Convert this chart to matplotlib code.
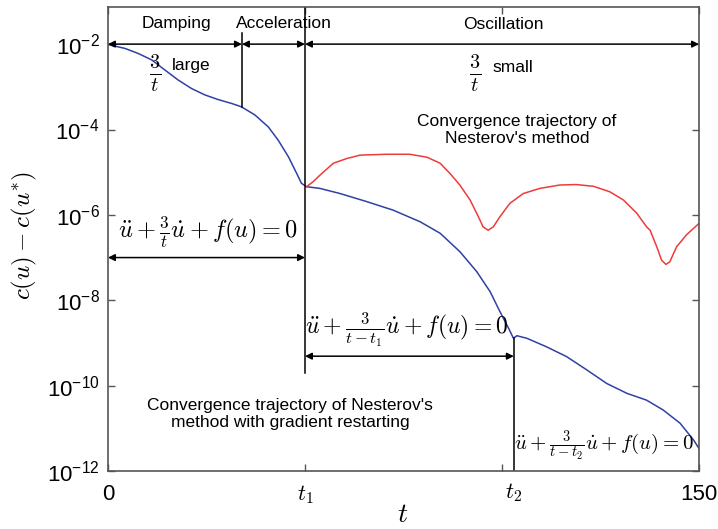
import numpy as np
import matplotlib
matplotlib.use("Agg")
import matplotlib.pyplot as plt
import matplotlib.transforms as mtransforms

plt.rcParams['font.family'] = ['Liberation Sans', 'DejaVu Sans']
plt.rcParams['mathtext.fontset'] = 'cm'

t_blue = [0, 0.5, 4.3, 7.7, 11.1, 14.5, 17.8, 21.2, 24.6, 28.0, 31.4, 33.9, 37.3,
          40.7, 43.2, 45.8, 47.9, 49.1, 50.4, 53.8, 58.9, 65.7, 72.4, 79.2, 84.3,
          89.3, 93.6, 97.0, 99.5, 101.7, 102.9, 103.8, 105.0, 106.3, 111.3, 116.4,
          121.5, 126.6, 131.7, 136.7, 140.9, 145.2, 148.6, 150]
log_blue = [-2.00, -2.02, -2.10, -2.22, -2.37, -2.61, -2.84, -3.04, -3.19, -3.30,
            -3.39, -3.47, -3.66, -3.94, -4.25, -4.64, -5.03, -5.26, -5.34, -5.38,
            -5.50, -5.69, -5.89, -6.16, -6.43, -6.86, -7.33, -7.80, -8.27, -8.66,
            -8.89, -8.83, -8.86, -8.89, -9.09, -9.32, -9.63, -9.95, -10.18, -10.34,
            -10.57, -10.88, -11.27, -11.47]

# plain Nesterov after t1 (red)
t_red = [50.4, 52.1, 53.8, 57.2, 60.6, 64.0, 70.7, 76.6, 81.0, 84.3, 86.8, 89.3,
         91.9, 94.0, 95.2, 96.5, 97.8, 99.5, 102.0, 105.4, 109.6, 114.7, 118.9,
         123.2, 127.4, 130.8, 134.2, 136.7, 137.6, 139.3, 140.5, 141.6, 142.6,
         144.3, 146.8, 150.0]
log_red = [-5.34, -5.22, -5.07, -4.79, -4.68, -4.60, -4.58, -4.58, -4.65, -4.79,
           -5.03, -5.30, -5.65, -6.04, -6.28, -6.36, -6.28, -6.04, -5.73, -5.50,
           -5.38, -5.30, -5.29, -5.33, -5.46, -5.65, -5.96, -6.28, -6.36, -6.75,
           -7.06, -7.16, -7.10, -6.75, -6.47, -6.20]

t1, t2, t_acc = 50, 103, 34
yticks = [1e-12, 1e-10, 1e-8, 1e-6, 1e-4, 1e-2]
ytick_labels = [r'$\mathregular{10^{-12}}$', r'$\mathregular{10^{-10}}$',
                r'$\mathregular{10^{-8}}$', r'$\mathregular{10^{-6}}$',
                r'$\mathregular{10^{-4}}$', r'$\mathregular{10^{-2}}$']

fig = plt.figure(figsize=(7.18, 5.29), dpi=100)
ax = fig.add_axes([0.1504, 0.1096, 0.8231, 0.8772])

ax.plot(t_blue, 10 ** np.array(log_blue), color='#3040a4', lw=1.1)
ax.plot(t_red, 10 ** np.array(log_red), color='#ee3b3b', lw=1.1)

ax.set_yscale('log')
ax.set_xlim(0, 150)
ax.set_ylim(1e-12, 10 ** -1.13)
ax.set_yticks(yticks, ytick_labels)
ax.yaxis.set_minor_locator(matplotlib.ticker.NullLocator())
ax.set_xticks([0, 50, 100, 150], ['0', r'$t_1$', '', '150'])
ax.tick_params(direction='in', top=True, right=True, length=5, width=1,
               color='#555555', labelsize=16, pad=6)
ax.tick_params(axis='x', pad=9)
for s in ax.spines.values():
    s.set_color('#555555')
    s.set_linewidth(1.2)

trans = mtransforms.blended_transform_factory(ax.transData, ax.transAxes)
ax.text(t2, -0.022, r'$t_2$', transform=trans, ha='center', va='top', fontsize=16)

# vertical separators
ax.plot([t_acc, t_acc], [10 ** -1.74, 10 ** -3.47], color='black', lw=1.1)
ax.plot([t1, t1], [10 ** -1.13, 10 ** -9.70], color='black', lw=1.1)
ax.plot([t2, t2], [10 ** -8.89, 1e-12], color='black', lw=1.1)

arr = dict(arrowstyle='<|-|>', color='black', lw=1.1, shrinkA=0, shrinkB=0,
           mutation_scale=10)
for a, b, y in [(0, t_acc, 1e-2), (t_acc, t1, 1e-2), (t1, 150, 1e-2),
                (0, t1, 1e-7), (t1, t2, 10 ** -9.31)]:
    ax.annotate('', xy=(b, y), xytext=(a, y), arrowprops=arr)

fs = 12.5
ax.text(17.5, 10 ** -1.51, 'Damping', ha='center', va='center', fontsize=fs)
ax.text(44.7, 10 ** -1.51, 'Acceleration', ha='center', va='center', fontsize=fs)
ax.text(100.3, 10 ** -1.55, 'Oscillation', ha='center', va='center', fontsize=fs)
ax.text(11.9, 10 ** -2.68, r'$\frac{3}{t}$', ha='center', va='center', fontsize=21)
ax.text(16.2, 10 ** -2.49, 'large', ha='left', va='center', fontsize=fs)
ax.text(93.1, 10 ** -2.68, r'$\frac{3}{t}$', ha='center', va='center', fontsize=21)
ax.text(97.5, 10 ** -2.54, 'small', ha='left', va='center', fontsize=fs)
ax.text(103.8, 10 ** -4.01, "Convergence trajectory of\nNesterov's method",
        ha='center', va='center', fontsize=fs, linespacing=1.15)
ax.text(46.2, 10 ** -10.67,
        "Convergence trajectory of Nesterov's\nmethod with gradient restarting",
        ha='center', va='center', fontsize=fs, linespacing=1.15)

ax.text(25.4, 10 ** -6.40, r'$\ddot{u} + \frac{3}{t}\dot{u} + f(u) = 0$',
        ha='center', va='center', fontsize=17.5)
ax.text(75.9, 10 ** -8.70, r'$\ddot{u} + \frac{3}{t - t_1}\dot{u} + f(u) = 0$',
        ha='center', va='center', fontsize=17)
ax.text(125.9, 10 ** -11.41, r'$\ddot{u} + \frac{3}{t - t_2}\dot{u} + f(u) = 0$',
        ha='center', va='center', fontsize=15)

fig.text(24 / 718, 1 - 236 / 529, r'$c(u) - c(u^{*})$', rotation=90,
         ha='center', va='center', fontsize=18)
fig.text(403 / 718, 1 - 515 / 529, r'$t$', ha='center', va='center', fontsize=20)

fig.savefig('out.png', dpi=100)
